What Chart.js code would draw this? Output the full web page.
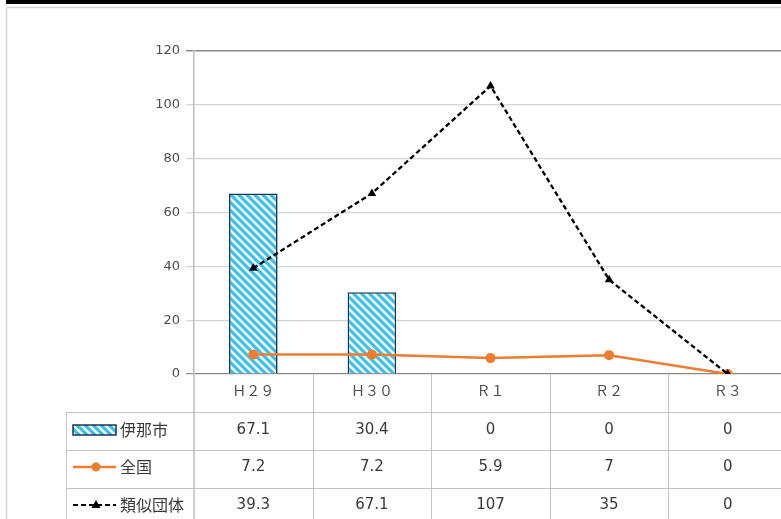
<!DOCTYPE html>
<html>
<head>
<meta charset="utf-8">
<script src="https://cdn.jsdelivr.net/npm/chart.js@4/dist/chart.umd.min.js"></script>
<style>
  html, body { margin: 0; padding: 0; background: #fff; overflow: hidden; }
  #wrap { position: relative; width: 781px; height: 519px; overflow: hidden; }
  canvas { display: block; }
</style>
</head>
<body>
<div id="wrap"><canvas id="c" width="800" height="519"></canvas></div>
<script>
// Fiscal years shown along the axis / table header
const categories = ['Ｈ２９', 'Ｈ３０', 'Ｒ１', 'Ｒ２', 'Ｒ３'];
// Series
const inaCity = [67.1, 30.4, 0, 0, 0];
const national = [7.2, 7.2, 5.9, 7, 0];
const similarGroup = [39.3, 67.1, 107, 35, 0];
const seriesNames = ['伊那市', '全国', '類似団体'];
// Value axis
const yTicks = [0, 20, 40, 60, 80, 100, 120];

const BAR_EDGE = '#1c3552';
const ORANGE = '#ED7D31';

function hatchPattern(ctx) {
  const s = 8;
  const c = document.createElement('canvas');
  c.width = s; c.height = s;
  const g = c.getContext('2d');
  g.fillStyle = '#3dc0e8';
  g.fillRect(0, 0, s, s);
  g.strokeStyle = '#f2fbff';
  g.lineWidth = 2.6;
  g.beginPath();
  g.moveTo(-2, -2); g.lineTo(s + 2, s + 2);
  g.moveTo(-2, s - 2); g.lineTo(2, s + 2);
  g.moveTo(s - 2, -2); g.lineTo(s + 2, 2);
  g.stroke();
  return ctx.createPattern(c, 'repeat');
}

const canvas = document.getElementById('c');
const ctx0 = canvas.getContext('2d');
const hatch = hatchPattern(ctx0);

const ROW_TOP = [374, 412, 450, 488];
const TABLE_LEFT = 66;

// Outer frame of the chart object
const framePlugin = {
  id: 'frame',
  beforeDraw(chart) {
    const ctx = chart.ctx;
    ctx.save();
    ctx.fillStyle = '#fff';
    ctx.fillRect(0, 0, chart.width, chart.height);
    ctx.fillStyle = '#000';
    ctx.fillRect(6, 0, chart.width, 4);
    ctx.strokeStyle = '#d4d4d4';
    ctx.lineWidth = 1.5;
    ctx.beginPath();
    ctx.moveTo(6.5, 7.5); ctx.lineTo(chart.width, 7.5);
    ctx.moveTo(6.5, 7.5); ctx.lineTo(6.5, chart.height);
    ctx.stroke();
    ctx.restore();
  }
};

// Data table under the plot with legend keys
const tablePlugin = {
  id: 'dataTable',
  afterDraw(chart) {
    const ctx = chart.ctx;
    const x = chart.scales.x;
    const area = chart.chartArea;
    const n = categories.length;
    const step = (area.right - area.left) / n;
    ctx.save();
    // grid of the table
    ctx.strokeStyle = '#c4c4c4';
    ctx.lineWidth = 1;
    ctx.beginPath();
    for (let r = 1; r < ROW_TOP.length; r++) {
      ctx.moveTo(TABLE_LEFT, ROW_TOP[r] + 0.5);
      ctx.lineTo(chart.width, ROW_TOP[r] + 0.5);
    }
    ctx.moveTo(TABLE_LEFT + 0.5, ROW_TOP[1]);
    ctx.lineTo(TABLE_LEFT + 0.5, chart.height);
    for (let i = 1; i < n; i++) {
      const bx = Math.round(area.left + step * i) + 0.5;
      ctx.moveTo(bx, area.bottom);
      ctx.lineTo(bx, chart.height);
    }
    ctx.stroke();
    // axis continuation down through the table
    ctx.strokeStyle = '#bdbdbd';
    ctx.lineWidth = 1.5;
    ctx.beginPath();
    ctx.moveTo(area.left, area.bottom);
    ctx.lineTo(area.left, chart.height);
    ctx.stroke();

    // header labels
    ctx.fillStyle = '#4d4d4d';
    ctx.textAlign = 'center';
    ctx.textBaseline = 'middle';
    ctx.font = '14px "Noto Sans CJK JP"';
    categories.forEach((c, i) => {
      ctx.fillText(c, x.getPixelForValue(i), 391);
    });

    // values
    const rows = [inaCity, national, similarGroup];
    const rowY = [430, 467, 505];
    ctx.fillStyle = '#3a3a3a';
    ctx.font = '15px "DejaVu Sans"';
    rows.forEach((vals, r) => {
      vals.forEach((v, i) => {
        ctx.fillText(String(v), x.getPixelForValue(i), rowY[r]);
      });
    });

    // legend keys
    const kx0 = 73, kx1 = 116, kc = 96;
    // bar key
    ctx.fillStyle = hatch;
    ctx.fillRect(kx0, rowY[0] - 5, kx1 - kx0, 10);
    ctx.strokeStyle = BAR_EDGE;
    ctx.lineWidth = 1.5;
    ctx.strokeRect(kx0, rowY[0] - 5, kx1 - kx0, 10);
    // national key
    ctx.strokeStyle = ORANGE;
    ctx.lineWidth = 2.5;
    ctx.beginPath();
    ctx.moveTo(kx0, rowY[1]); ctx.lineTo(kx1, rowY[1]);
    ctx.stroke();
    ctx.fillStyle = ORANGE;
    ctx.beginPath();
    ctx.arc(kc, rowY[1], 4.5, 0, Math.PI * 2);
    ctx.fill();
    // similar group key
    ctx.strokeStyle = '#000';
    ctx.lineWidth = 2.2;
    ctx.setLineDash([5, 3]);
    ctx.beginPath();
    ctx.moveTo(kx0, rowY[2]); ctx.lineTo(kx1, rowY[2]);
    ctx.stroke();
    ctx.setLineDash([]);
    ctx.fillStyle = '#000';
    ctx.beginPath();
    ctx.moveTo(kc, rowY[2] - 5);
    ctx.lineTo(kc + 4.5, rowY[2] + 3);
    ctx.lineTo(kc - 4.5, rowY[2] + 3);
    ctx.closePath();
    ctx.fill();

    // legend names
    ctx.fillStyle = '#3a3a3a';
    ctx.textAlign = 'left';
    ctx.font = '16px "Noto Sans CJK JP"';
    seriesNames.forEach((s, r) => {
      ctx.fillText(s, 120, rowY[r]);
    });
    ctx.restore();
  }
};

new Chart(canvas, {
  data: {
    labels: categories,
    datasets: [
      {
        type: 'bar',
        label: seriesNames[0],
        data: inaCity,
        backgroundColor: hatch,
        borderColor: BAR_EDGE,
        borderWidth: 1.6,
        borderSkipped: 'bottom',
        categoryPercentage: 1,
        barPercentage: 0.41,
        order: 3
      },
      {
        type: 'line',
        label: seriesNames[1],
        data: national,
        borderColor: ORANGE,
        backgroundColor: ORANGE,
        borderWidth: 2.5,
        pointStyle: 'circle',
        pointRadius: 5,
        pointBorderWidth: 0,
        tension: 0,
        order: 2
      },
      {
        type: 'line',
        label: seriesNames[2],
        data: similarGroup,
        borderColor: '#000',
        backgroundColor: '#000',
        borderWidth: 2.3,
        borderDash: [5, 3],
        pointStyle: 'triangle',
        pointRadius: 5,
        pointBorderWidth: 0,
        tension: 0,
        order: 1
      }
    ]
  },
  options: {
    responsive: false,
    animation: false,
    devicePixelRatio: 1,
    layout: { padding: { top: 51, bottom: 145, left: 0, right: 13 } },
    plugins: {
      legend: { display: false },
      tooltip: { enabled: false }
    },
    scales: {
      x: {
        type: 'category',
        offset: true,
        display: false
      },
      y: {
        min: 0,
        max: 120,
        afterFit(scale) { scale.width = 194; },
        afterBuildTicks(scale) { scale.ticks = yTicks.map(v => ({ value: v })); },
        border: { display: true, color: '#bdbdbd', width: 1.5 },
        grid: {
          color: (c) => (c.tick && (c.tick.value === 120 || c.tick.value === 0)) ? '#8a8a8a' : '#d4d4d4',
          lineWidth: (c) => (c.tick && c.tick.value === 120) ? 1.5 : 1.2,
          tickLength: 8,
          drawTicks: true
        },
        ticks: {
          padding: 6,
          color: '#4d4d4d',
          font: { family: 'DejaVu Sans', size: 13 }
        }
      }
    }
  },
  plugins: [framePlugin, tablePlugin]
});
</script>
</body>
</html>
